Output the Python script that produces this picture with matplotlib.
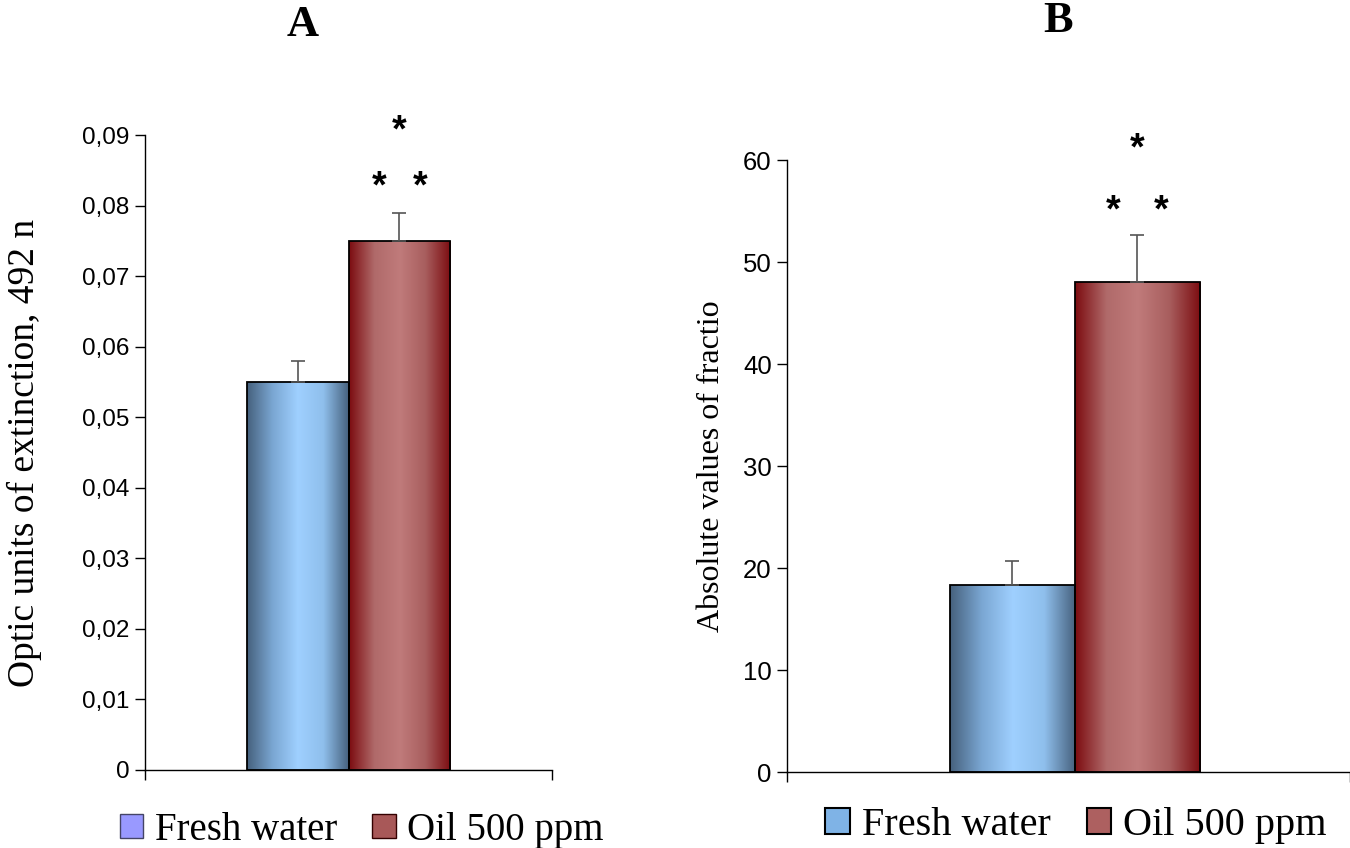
import numpy as np
import matplotlib
matplotlib.use('Agg')
import matplotlib.pyplot as plt
from matplotlib.colors import LinearSegmentedColormap
from matplotlib.patches import Patch
from matplotlib.ticker import FuncFormatter

# данные
groups = ['Fresh water', 'Oil 500 ppm']
a_values = [0.055, 0.075]
a_errors = [0.003, 0.004]
b_values = [18.3, 48.0]
b_errors = [2.4, 4.6]

SERIF = 'Liberation Serif'
SANS = 'Liberation Sans'

blue_cmap = LinearSegmentedColormap.from_list(
    'blue', ['#46617d', '#7aa6d2', '#9fd0ff', '#8fbfec', '#46617d'])
red_cmap = LinearSegmentedColormap.from_list(
    'red', ['#7c0c10', '#b06a6a', '#c07b7b', '#a85e5e', '#7c0c10'])


def gradient_bars(ax, centers, values, cmaps, width=1.0):
    bars = ax.bar(centers, values, width=width, color='none',
                  edgecolor='black', linewidth=1.3, zorder=3)
    grad = np.linspace(0, 1, 256).reshape(1, -1)
    for bar, cmap in zip(bars, cmaps):
        x0, y0 = bar.get_x(), bar.get_y()
        im = ax.imshow(grad, cmap=cmap, aspect='auto', zorder=2,
                       extent=[x0, x0 + bar.get_width(), y0, y0 + bar.get_height()])
        im.set_clip_path(bar)
    return bars


def setup_axis(ax, ylim, yticks, xlim, fmt, labelsize):
    ax.set_xlim(*xlim)
    ax.set_ylim(*ylim)
    ax.set_yticks(yticks)
    ax.yaxis.set_major_formatter(FuncFormatter(fmt))
    ax.set_xticks(xlim)
    ax.set_xticklabels([])
    for s in ['top', 'right']:
        ax.spines[s].set_visible(False)
    ax.spines['left'].set_linewidth(1.0)
    ax.spines['bottom'].set_linewidth(1.0)
    ax.tick_params(axis='both', direction='out', length=7, width=1.0)
    ax.tick_params(axis='y', labelsize=labelsize, pad=4)
    for t in ax.get_yticklabels():
        t.set_fontfamily(SANS)


def stars(ax, pts):
    for x, y in pts:
        ax.text(x, y, '*', ha='center', va='center', fontsize=27,
                fontweight='bold', fontfamily=SANS, clip_on=False)


fig = plt.figure(figsize=(13.5, 8.48), dpi=100)

# ---- панель A ----
axA = fig.add_axes([0.1074, 0.092, 0.3015, 0.7488])
centersA = [1.5, 2.5]
gradient_bars(axA, centersA, a_values, [blue_cmap, red_cmap])
axA.errorbar(centersA, a_values, yerr=[[0, 0], a_errors], fmt='none',
             ecolor='#555555', elinewidth=1.2, capsize=5, capthick=1.2, zorder=4)
setup_axis(axA, (0, 0.09), np.arange(0, 0.0901, 0.01), (0, 4),
           lambda v, p: '0' if abs(v) < 1e-9 else f'{v:.2f}'.replace('.', ','), 17.5)
axA.set_ylabel('Optic units of extinction, 492 n', fontfamily=SERIF, fontsize=27)
axA.yaxis.set_label_coords(-0.252, 0.5)
stars(axA, [(2.5, 0.0905), (2.3, 0.0825), (2.7, 0.0825)])
fig.text(0.2245, 0.971, 'A', ha='center', va='center', fontsize=32,
         fontweight='bold', fontfamily=SERIF)
fig.legend(handles=[Patch(facecolor='#9999ff', edgecolor='#444466'),
                    Patch(facecolor='#a85858', edgecolor='#330000')],
           labels=groups, loc='center', bbox_to_anchor=(0.268, 0.021),
           ncol=2, frameon=False, handlelength=0.6, handleheight=0.6,
           handletextpad=0.3, columnspacing=0.9, borderpad=0,
           prop={'family': SERIF, 'size': 28})

# ---- панель B ----
axB = fig.add_axes([0.583, 0.0896, 0.417, 0.7217])
centersB = [1.8, 2.8]
gradient_bars(axB, centersB, b_values, [blue_cmap, red_cmap])
axB.errorbar(centersB, b_values, yerr=[[0, 0], b_errors], fmt='none',
             ecolor='#555555', elinewidth=1.2, capsize=5, capthick=1.2, zorder=4)
setup_axis(axB, (0, 60), np.arange(0, 61, 10), (0, 4.5),
           lambda v, p: f'{v:.0f}', 18.5)
axB.set_ylabel('Absolute values of fractio', fontfamily=SERIF, fontsize=23)
axB.yaxis.set_label_coords(-0.108, 0.5)
stars(axB, [(2.8, 61.0), (2.61, 55.0), (2.99, 55.0)])
fig.text(0.7837, 0.975, 'B', ha='center', va='center', fontsize=32,
         fontweight='bold', fontfamily=SERIF)
fig.legend(handles=[Patch(facecolor='#7fb3e6', edgecolor='black', linewidth=1.5),
                    Patch(facecolor='#ad6060', edgecolor='black', linewidth=1.5)],
           labels=groups, loc='center', bbox_to_anchor=(0.797, 0.026),
           ncol=2, frameon=False, handlelength=0.6, handleheight=0.6,
           handletextpad=0.3, columnspacing=0.9, borderpad=0,
           prop={'family': SERIF, 'size': 29})

fig.savefig('out.png', dpi=100)
